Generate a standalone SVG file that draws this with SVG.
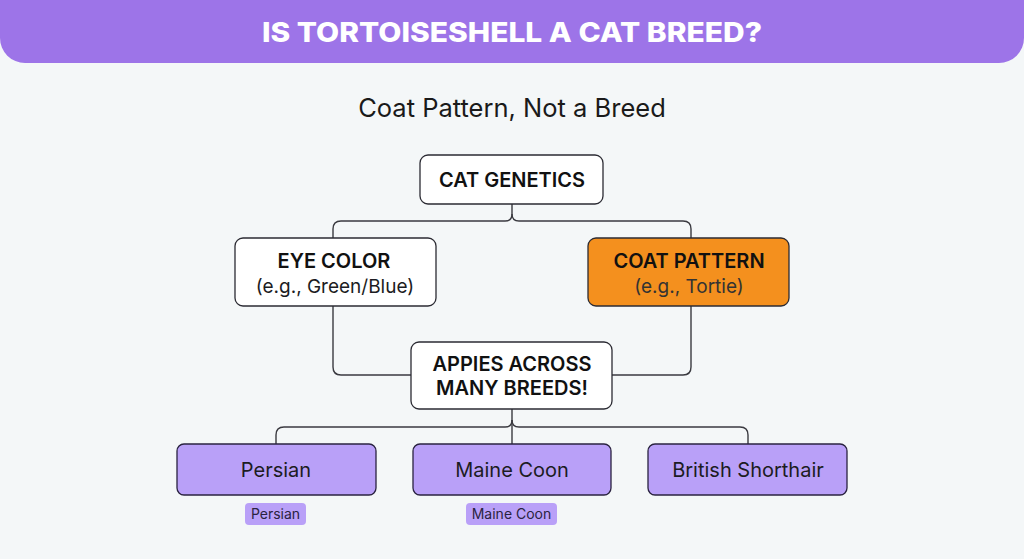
<svg xmlns="http://www.w3.org/2000/svg" width="1024" height="559" viewBox="0 0 1024 559">
<style>
.node{stroke:#2b2b33;stroke-width:1.3}
.w{fill:#ffffff}
.o{fill:#f4901e}
.p{fill:#b9a0f8;stroke:#2a2340}
.tag{fill:#b9a0f8}
.b{font-family:Inter,"Liberation Sans",sans-serif;font-weight:600;font-size:20px;fill:#111;text-anchor:middle}
.r{font-family:Inter,"Liberation Sans",sans-serif;font-weight:400;font-size:20px;fill:#1c1c22;text-anchor:middle}
.sub{font-size:19px}
.s{font-family:Inter,"Liberation Sans",sans-serif;font-weight:400;font-size:14px;fill:#2a2340;text-anchor:middle}
.c{fill:none;stroke:#3a3a40;stroke-width:1.4}
</style>
<rect width="1024" height="559" fill="#f4f7f8"/>
<g id="header">
<path d="M0 0H1024V38A25 25 0 0 1 999 63H25A25 25 0 0 1 0 38Z" fill="#9d74e8"/>
<text x="512" y="42" font-family="Inter,'Liberation Sans',sans-serif" font-weight="800" font-size="27" fill="#ffffff" text-anchor="middle" textLength="500" lengthAdjust="spacingAndGlyphs">IS TORTOISESHELL A CAT BREED?</text>
</g>
<g id="subtitle">
<text x="512" y="117" font-family="Inter,'Liberation Sans',sans-serif" font-size="25.5" fill="#1a1a1a" text-anchor="middle">Coat Pattern, Not a Breed</text>
</g>
<g id="connectors">
<path class="c" d="M512 204V214Q512 221 505 221H341Q333 221 333 229V238"/>
<path class="c" d="M512 214Q512 221 519 221H683Q691 221 691 229V238"/>
<path class="c" d="M333 306V367Q333 375 341 375H411"/>
<path class="c" d="M691 306V367Q691 375 683 375H612"/>
<path class="c" d="M512 409V444"/>
<path class="c" d="M512 420Q512 427 505 427H284Q276 427 276 435V444"/>
<path class="c" d="M512 420Q512 427 519 427H740Q748 427 748 435V444"/>
</g>
<g id="cat-genetics">
<rect class="node w" x="420" y="155" width="183" height="49" rx="8"/>
<text class="b" x="512" y="187">CAT GENETICS</text>
</g>
<g id="eye-color">
<rect class="node w" x="235" y="238" width="201" height="68" rx="8"/>
<text class="b" x="334" y="268">EYE COLOR</text>
<text class="r sub" x="335" y="293">(e.g., Green/Blue)</text>
</g>
<g id="coat-pattern">
<rect class="node o" x="588" y="238" width="201" height="68" rx="8"/>
<text class="b" x="689" y="268">COAT PATTERN</text>
<text class="r sub" x="689" y="293" style="fill:#333">(e.g., Tortie)</text>
</g>
<g id="applies">
<rect class="node w" x="411" y="342" width="201" height="67" rx="8"/>
<text class="b" x="512" y="371">APPIES ACROSS</text>
<text class="b" x="512" y="395">MANY BREEDS!</text>
</g>
<g id="persian">
<rect class="node p" x="177" y="444" width="199" height="51" rx="7"/>
<text class="r" x="276" y="477">Persian</text>
</g>
<g id="maine-coon">
<rect class="node p" x="413" y="444" width="198" height="51" rx="7"/>
<text class="r" x="512" y="477">Maine Coon</text>
</g>
<g id="british-shorthair">
<rect class="node p" x="648" y="444" width="199" height="51" rx="7"/>
<text class="r" x="748" y="477">British Shorthair</text>
</g>
<g id="tag-persian">
<rect class="tag" x="245" y="503" width="61" height="22" rx="4"/>
<text class="s" x="275.5" y="519">Persian</text>
</g>
<g id="tag-maine-coon">
<rect class="tag" x="466" y="503" width="91" height="22" rx="4"/>
<text class="s" x="511.5" y="519">Maine Coon</text>
</g>
</svg>
